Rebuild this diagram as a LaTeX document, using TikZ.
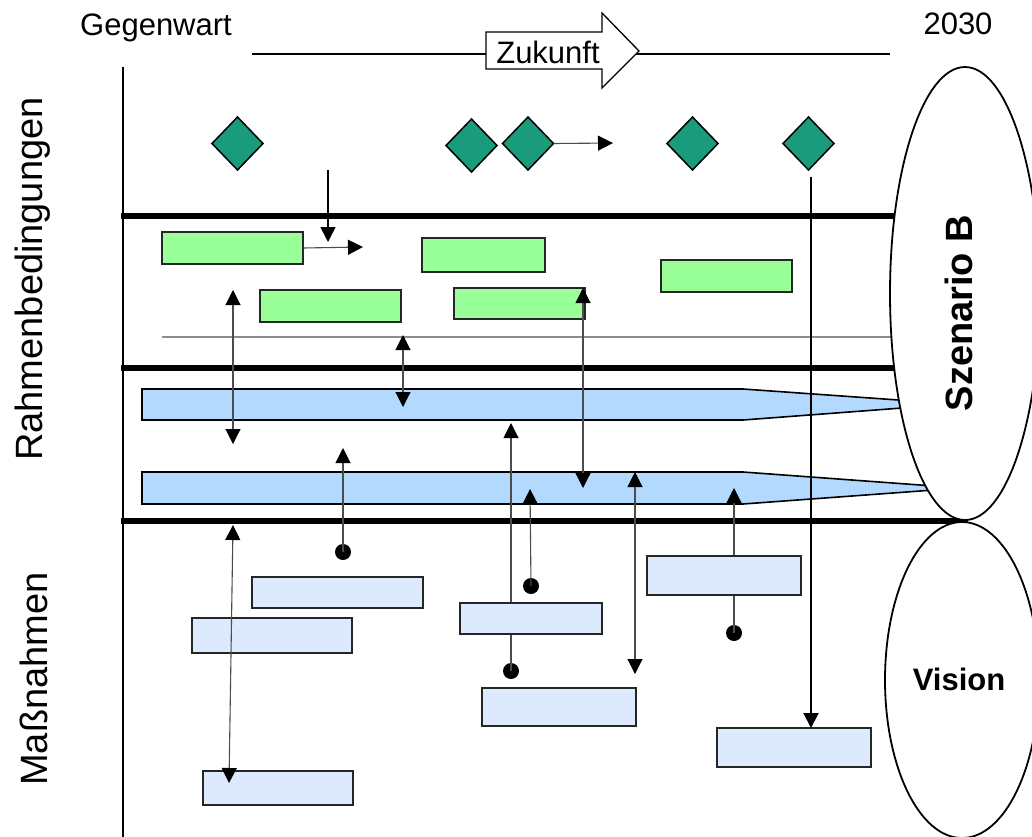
\documentclass[tikz,border=0pt]{standalone}
\usepackage{fontspec}
\setmainfont{Liberation Sans}
\usetikzlibrary{arrows.meta,shapes.geometric}
\definecolor{dteal}{RGB}{26,155,123}
\definecolor{lgreen}{RGB}{153,255,153}
\definecolor{lblue}{RGB}{179,217,255}
\definecolor{pblue}{RGB}{221,234,253}
\definecolor{tgray}{RGB}{140,140,140}
\begin{document}
\begin{tikzpicture}[x=1pt,y=-1pt,
  dia/.style={diamond,draw=black,line width=1.5pt,fill=dteal,minimum width=51pt,minimum height=53pt,inner sep=0pt,outer sep=0pt},
  gbox/.style={draw=black!85,line width=1.8pt,fill=lgreen,inner sep=0pt,outer sep=0pt},
  mbox/.style={draw=black!85,line width=1.8pt,fill=pblue,inner sep=0pt,outer sep=0pt},
  bar/.style={draw=black,line width=1.6pt,fill=lblue},
  conn/.style={draw=black!70,line width=1.1pt},
  tip/.style={-{Triangle[length=15pt,width=15pt,color=black]}},
  dtip/.style={{Triangle[length=15pt,width=15pt,color=black]}-{Triangle[length=15pt,width=15pt,color=black]}},
  dot/.style={circle,fill=black,inner sep=0pt,minimum size=16pt},
  sepline/.style={line width=6pt},
  lbl/.style={font=\fontsize{31}{31}\selectfont,inner sep=0pt},
  side/.style={font=\fontsize{38}{38}\selectfont,inner sep=0pt,rotate=90}
]
\useasboundingbox (0,0) rectangle (1032,836);
% header
\node[lbl,anchor=base] (now) at (156,35) {Gegenwart};
\node[lbl,anchor=base] (end) at (958,34) {2030};
\coordinate (tl0) at (252,54);
\coordinate (tl1) at (890,54);
\draw[line width=1.5pt] (tl0) -- (tl1);
\draw[line width=1.3pt,fill=white] (486,32) -- (602,32) -- (602,13) -- (639,51) -- (602,88) -- (602,69) -- (486,69) -- cycle;
\node[lbl] (zuk) at (548,52) {Zukunft};
% side labels
\node[side] (rb) at (33,279) {Rahmenbedingungen};
\node[side] (mn) at (34,679) {Maßnahmen};
% frame lines
\coordinate (v0) at (123,67);
\coordinate (v1) at (123,840);
\draw[line width=2.5pt] (v0) -- (v1);
\coordinate (h1a) at (121,216); \coordinate (h1b) at (960,216);
\coordinate (h2a) at (121,368); \coordinate (h2b) at (960,368);
\coordinate (h3a) at (121,521); \coordinate (h3b) at (968,521);
\draw[sepline] (h1a) -- (h1b);
\draw[sepline] (h2a) -- (h2b);
\draw[sepline] (h3a) -- (h3b);
\coordinate (g0) at (162,337); \coordinate (g1) at (950,337);
\draw[tgray,line width=1.2pt] (g0) -- (g1);
% tapered bars
\draw[bar] (142,389) -- (743,389) -- (955,404) -- (743,420) -- (142,420) -- cycle;
\draw[bar] (142,472) -- (743,472) -- (961,488) -- (743,504) -- (142,504) -- cycle;
% green boxes
\node[gbox,minimum width=141pt,minimum height=32pt] (G1) at (232.5,248) {};
\node[gbox,minimum width=141pt,minimum height=32pt] (G2) at (330.5,306) {};
\node[gbox,minimum width=123pt,minimum height=34pt] (G3) at (483.5,255) {};
\node[gbox,minimum width=131pt,minimum height=31pt] (G4) at (519.5,303.5) {};
\node[gbox,minimum width=131pt,minimum height=32pt] (G5) at (726.5,276) {};
% diamonds
\node[dia] (D1) at (237.5,143.5) {};
\node[dia] (D2) at (471.5,145.5) {};
\node[dia] (D3) at (528,143.5) {};
\node[dia] (D4) at (692.5,143.5) {};
\node[dia] (D5) at (808.5,143.5) {};
% connectors hidden behind measure boxes
\node[dot] (p5) at (511,671) {};
\coordinate (t5) at (511,423);
\draw[conn,tip] (p5.center) -- (t5);
\node[dot] (p9) at (734,633) {};
\coordinate (t9) at (734,488);
\draw[conn,tip] (p9.center) -- (t9);
% measure boxes
\node[mbox,minimum width=171pt,minimum height=31pt] (M1) at (337.5,592.5) {};
\node[mbox,minimum width=160pt,minimum height=35pt] (M2) at (272,635.5) {};
\node[mbox,minimum width=150pt,minimum height=34pt] (M3) at (278,788) {};
\node[mbox,minimum width=142pt,minimum height=31pt] (M4) at (531,618.5) {};
\node[mbox,minimum width=154pt,minimum height=38pt] (M5) at (559,707) {};
\node[mbox,minimum width=154pt,minimum height=39pt] (M6) at (724,575.5) {};
\node[mbox,minimum width=154pt,minimum height=39pt] (M7) at (794,747.5) {};
% other connectors
\coordinate (t3) at (613,143);
\draw[conn,tip] (D3.east) -- (t3);
\coordinate (s0) at (328,170); \coordinate (s1) at (328,242);
\draw[black,line width=1.6pt,tip] (s0) -- (s1);
\coordinate (t1) at (363,247);
\draw[conn,tip] (G1.east) -- (t1);
\coordinate (a1t) at (233,290); \coordinate (a1b) at (233,444);
\draw[conn,dtip] (a1t) -- (a1b);
\coordinate (a2t) at (403,335); \coordinate (a2b) at (403,407);
\draw[conn,dtip] (a2t) -- (a2b);
\node[dot] (p3) at (343,552) {};
\coordinate (t3b) at (343,448);
\draw[conn,tip] (p3.center) -- (t3b);
\coordinate (a4t) at (233,525); \coordinate (a4b) at (229,783);
\draw[conn,dtip] (a4t) -- (a4b);
\node[dot] (p6) at (531,586) {};
\coordinate (t6) at (530,489);
\draw[conn,tip] (p6.center) -- (t6);
\coordinate (a7t) at (583,288); \coordinate (a7b) at (583,488);
\draw[conn,dtip] (a7t) -- (a7b);
\coordinate (a8t) at (635,472); \coordinate (a8b) at (635,674);
\draw[conn,dtip] (a8t) -- (a8b);
\coordinate (l0) at (811,177);
\draw[black,line width=2pt,tip] (l0) -- (M7.north -| l0);
% ellipses
\node[ellipse,draw=black,line width=1.8pt,fill=white,minimum width=150pt,minimum height=453pt,inner sep=0pt] (SB) at (965,293.5) {};
\node[font=\fontsize{38}{38}\selectfont\bfseries,rotate=90,inner sep=0pt] (SBt) at (959,313) {Szenario B};
\node[ellipse,draw=black,line width=1.8pt,fill=white,minimum width=154pt,minimum height=316pt,inner sep=0pt] (VI) at (962,680) {};
\node[font=\fontsize{31}{31}\selectfont\bfseries,inner sep=0pt] (VIt) at (959,679) {Vision};
\end{tikzpicture}
\end{document}
